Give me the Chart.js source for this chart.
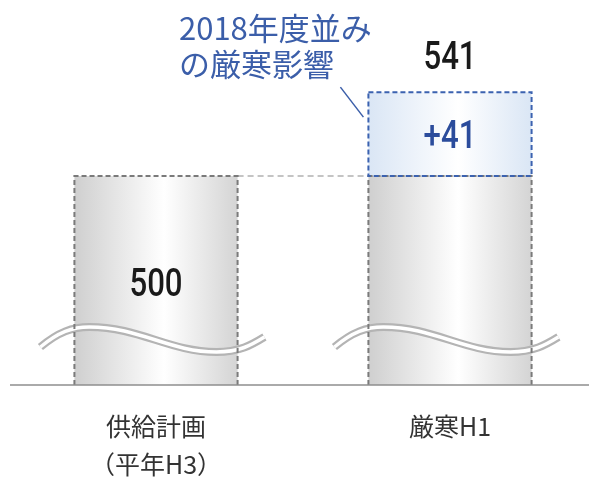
<!DOCTYPE html>
<html>
<head>
<meta charset="utf-8">
<script src="https://cdn.jsdelivr.net/npm/chart.js@4"></script>
<style>
  html, body { margin: 0; padding: 0; background: #fff; overflow: hidden; }
  #wrap { width: 597px; height: 481px; }
</style>
</head>
<body>
<div id="wrap"><canvas id="c"></canvas></div>
<script>
// data
const categories = [['供給計画', '（平年H3）'], ['厳寒H1']];
const baseValues = [500, 500];
const extraValues = [0, 41];
const extraLabels = ['', '+41'];
const totalLabels = ['', '541'];
const noteLines = ['2018年度並み', 'の厳寒影響'];

const BAR_PCT = 0.555;
const CJK = '"Noto Sans CJK JP", "Noto Sans", sans-serif';
const NUM = 'Roboto, "Liberation Sans", sans-serif';

function barGeom(chart, i) {
    const xs = chart.scales.x;
    const w = (xs.width / categories.length) * BAR_PCT;
    const cx = xs.getPixelForValue(i);
    return { left: cx - w / 2, right: cx + w / 2, width: w };
}

function grayFill(ctx) {
    const chart = ctx.chart;
    if (!chart.chartArea || ctx.dataIndex === undefined) return '#e0e0e0';
    const g = barGeom(chart, ctx.dataIndex);
    const gr = chart.ctx.createLinearGradient(g.left, 0, g.right, 0);
    gr.addColorStop(0, '#cfcfcf');
    gr.addColorStop(0.55, '#ffffff');
    gr.addColorStop(1, '#d4d4d4');
    return gr;
}

function blueFill(ctx) {
    const chart = ctx.chart;
    if (!chart.chartArea || ctx.dataIndex === undefined) return '#e6eef8';
    const g = barGeom(chart, ctx.dataIndex);
    const gr = chart.ctx.createLinearGradient(g.left, 0, g.right, 0);
    gr.addColorStop(0, '#dae6f5');
    gr.addColorStop(0.55, '#ffffff');
    gr.addColorStop(1, '#dae6f5');
    return gr;
}

function wave(c, L, B) {
    c.beginPath();
    c.moveTo(L - 34, B - 38);
    c.bezierCurveTo(L - 16, B - 53, L - 2, B - 58, L + 15, B - 58);
    c.bezierCurveTo(L + 65, B - 58, L + 95, B - 33, L + 142, B - 33);
    c.bezierCurveTo(L + 165, B - 33, L + 177, B - 40, L + 190, B - 48);
}

// condensed numbers like the original print font
function num(c, text, x, y) {
    c.save();
    c.translate(x, y);
    c.scale(0.8, 1);
    c.fillText(text, 0, 0);
    c.restore();
}

const decor = {
    id: 'decor',
    afterDatasetsDraw(chart) {
        const c = chart.ctx;
        const area = chart.chartArea;
        const m0 = chart.getDatasetMeta(0);
        const m1 = chart.getDatasetMeta(1);
        const B = area.bottom;

        c.save();
        // connector from first bar top to second bar
        const b0 = m0.data[0], b1 = m0.data[1];
        c.strokeStyle = '#c4c4c4';
        c.lineWidth = 2;
        c.setLineDash([6, 4]);
        c.beginPath();
        c.moveTo(b0.x + b0.width / 2, b0.y);
        c.lineTo(b1.x - b1.width / 2, b1.y);
        c.stroke();

        // wavy break lines
        c.setLineDash([]);
        m0.data.forEach((bar) => {
            const L = bar.x - bar.width / 2;
            wave(c, L, B);
            c.strokeStyle = '#b4b4b4';
            c.lineWidth = 8;
            c.stroke();
            wave(c, L, B);
            c.strokeStyle = '#ffffff';
            c.lineWidth = 3.5;
            c.stroke();
        });

        // dashed outlines of gray bars
        c.setLineDash([5, 3]);
        c.strokeStyle = '#7a7a7a';
        c.lineWidth = 2;
        m0.data.forEach((bar) => {
            const L = bar.x - bar.width / 2, R = bar.x + bar.width / 2;
            c.beginPath();
            c.moveTo(L, B);
            c.lineTo(L, bar.y);
            c.lineTo(R, bar.y);
            c.lineTo(R, B);
            c.stroke();
        });
        // dashed outline of blue segment
        c.strokeStyle = '#3b62b0';
        m1.data.forEach((bar, i) => {
            if (!extraValues[i]) return;
            const L = bar.x - bar.width / 2;
            c.strokeRect(L, bar.y, bar.width, bar.base - bar.y);
        });
        c.setLineDash([]);

        // baseline
        c.strokeStyle = '#8e8e8e';
        c.lineWidth = 1.5;
        c.beginPath();
        c.moveTo(10, B);
        c.lineTo(chart.width, B);
        c.stroke();

        // value labels
        c.textAlign = 'center';
        c.textBaseline = 'alphabetic';
        c.font = '500 39px ' + NUM;
        const first = m0.data[0];
        c.fillStyle = '#1a1a1a';
        num(c, String(baseValues[0]), first.x, (first.y + B) / 2 + 15);
        m1.data.forEach((bar, i) => {
            if (!extraValues[i]) return;
            c.fillStyle = '#2b4c9c';
            num(c, extraLabels[i], bar.x, (bar.y + bar.base) / 2 + 14);
            c.fillStyle = '#1a1a1a';
            num(c, totalLabels[i], bar.x, bar.y - 23);

            // annotation and leader line
            const L = bar.x - bar.width / 2;
            c.strokeStyle = '#3b5ea9';
            c.lineWidth = 1.5;
            c.beginPath();
            c.moveTo(L - 28, bar.y - 5);
            c.lineTo(L - 5, bar.y + 25);
            c.stroke();
        });

        c.fillStyle = '#3b5ea9';
        c.font = '31px ' + CJK;
        c.textAlign = 'left';
        c.textBaseline = 'middle';
        c.fillText(noteLines[0], 179, 28);
        c.fillText(noteLines[1], 179, 64);
        c.restore();
    }
};

new Chart(document.getElementById('c'), {
    type: 'bar',
    data: {
        labels: categories,
        datasets: [{
            data: baseValues,
            backgroundColor: grayFill,
            borderWidth: 0,
            barPercentage: BAR_PCT,
            categoryPercentage: 1
        }, {
            data: extraValues,
            backgroundColor: blueFill,
            borderWidth: 0,
            barPercentage: BAR_PCT,
            categoryPercentage: 1
        }]
    },
    options: {
        responsive: true,
        maintainAspectRatio: false,
        animation: false,
        layout: { padding: { left: 9, right: 0, top: 0, bottom: 0 } },
        plugins: { legend: { display: false }, tooltip: { enabled: false } },
        scales: {
            x: {
                stacked: true,
                grid: { display: false, drawTicks: false },
                border: { display: false },
                ticks: {
                    color: '#333',
                    padding: 22,
                    font: { family: CJK, size: 25, lineHeight: 1.52 },
                    maxRotation: 0
                },
                afterFit: (axis) => { axis.height = 96; }
            },
            y: {
                stacked: true,
                display: false,
                min: 398,
                max: 586
            }
        }
    },
    plugins: [decor]
});
</script>
</body>
</html>
